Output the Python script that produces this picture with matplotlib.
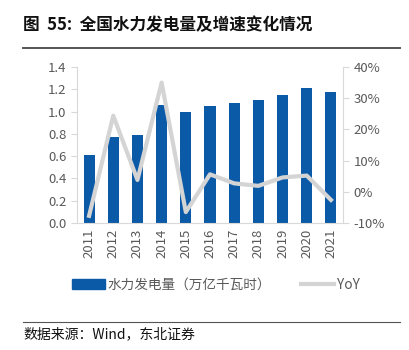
import numpy as np
import matplotlib
matplotlib.use('Agg')
import matplotlib.pyplot as plt
from matplotlib.lines import Line2D
from matplotlib.patches import Patch

plt.rcParams['font.family'] = ['Noto Sans CJK SC', 'DejaVu Sans']
plt.rcParams['axes.unicode_minus'] = False

years = ['2011', '2012', '2013', '2014', '2015', '2016',
         '2017', '2018', '2019', '2020', '2021']
hydro = [0.61, 0.77, 0.79, 1.06, 1.00, 1.05, 1.08, 1.10, 1.15, 1.21, 1.18]
yoy = [-7.7, 24.4, 3.8, 35.0, -6.5, 5.6, 2.7, 1.9, 4.6, 5.2, -2.6]

bar_color = '#0b5aa8'
line_color = '#d4d4d4'
tick_color = '#595959'
spine_color = '#d9d9d9'

fig = plt.figure(figsize=(4.1, 3.5), dpi=100)
ax = fig.add_axes([77 / 410, 1 - 223 / 350, (343 - 77) / 410, (223 - 67) / 350])
x = np.arange(len(years))
ax.bar(x, hydro, width=0.46, color=bar_color, zorder=2)
ax.set_xlim(-0.5, len(years) - 0.5)
ax.set_ylim(0, 1.4)
ax.set_yticks(np.arange(0, 1.41, 0.2))
ax.set_yticklabels([f'{v:.1f}' for v in np.arange(0, 1.41, 0.2)])
ax.set_xticks(x)
ax.set_xticklabels(years, rotation=90)

ax2 = ax.twinx()
ax2.plot(x, yoy, color=line_color, linewidth=3, zorder=3)
ax2.set_ylim(-10, 40)
ax2.set_yticks(range(-10, 41, 10))
ax2.set_yticklabels([f'{v}%' for v in range(-10, 41, 10)])

for a in (ax, ax2):
    for s in a.spines.values():
        s.set_visible(False)
    a.tick_params(colors=tick_color, labelsize=9.5, length=4, width=0.8)
    a.tick_params(axis='y', color=spine_color)
    a.tick_params(axis='x', length=0, pad=4)
ax.spines['left'].set_visible(True)
ax.spines['left'].set_color(spine_color)
ax.spines['bottom'].set_visible(True)
ax.spines['bottom'].set_color(spine_color)
ax2.spines['right'].set_visible(True)
ax2.spines['right'].set_color(spine_color)

handles = [Patch(color=bar_color), Line2D([0], [0], color=line_color, linewidth=3)]
fig.legend(handles, ['水力发电量（万亿千瓦时）', 'YoY'], loc='center',
           bbox_to_anchor=(216 / 410, 1 - 285 / 350), ncol=2, frameon=False,
           fontsize=9.8, handlelength=2.4, handletextpad=0.2, columnspacing=2.2,
           labelcolor=tick_color)

fig.text(23 / 410, 1 - 25 / 350, '图  55:  全国水力发电量及增速变化情况',
         fontsize=12, fontweight='bold', va='center', ha='left', color='#111111')
fig.add_artist(Line2D([23 / 410, 400 / 410], [1 - 48 / 350, 1 - 48 / 350],
                      color='#555555', linewidth=1.4))
fig.add_artist(Line2D([23 / 410, 400 / 410], [1 - 322 / 350, 1 - 322 / 350],
                      color='#555555', linewidth=0.8))
fig.text(23 / 410, 1 - 334 / 350, '数据来源：Wind，东北证券', fontsize=10,
         va='center', ha='left', color='#111111')

plt.savefig('out.png', dpi=100)
